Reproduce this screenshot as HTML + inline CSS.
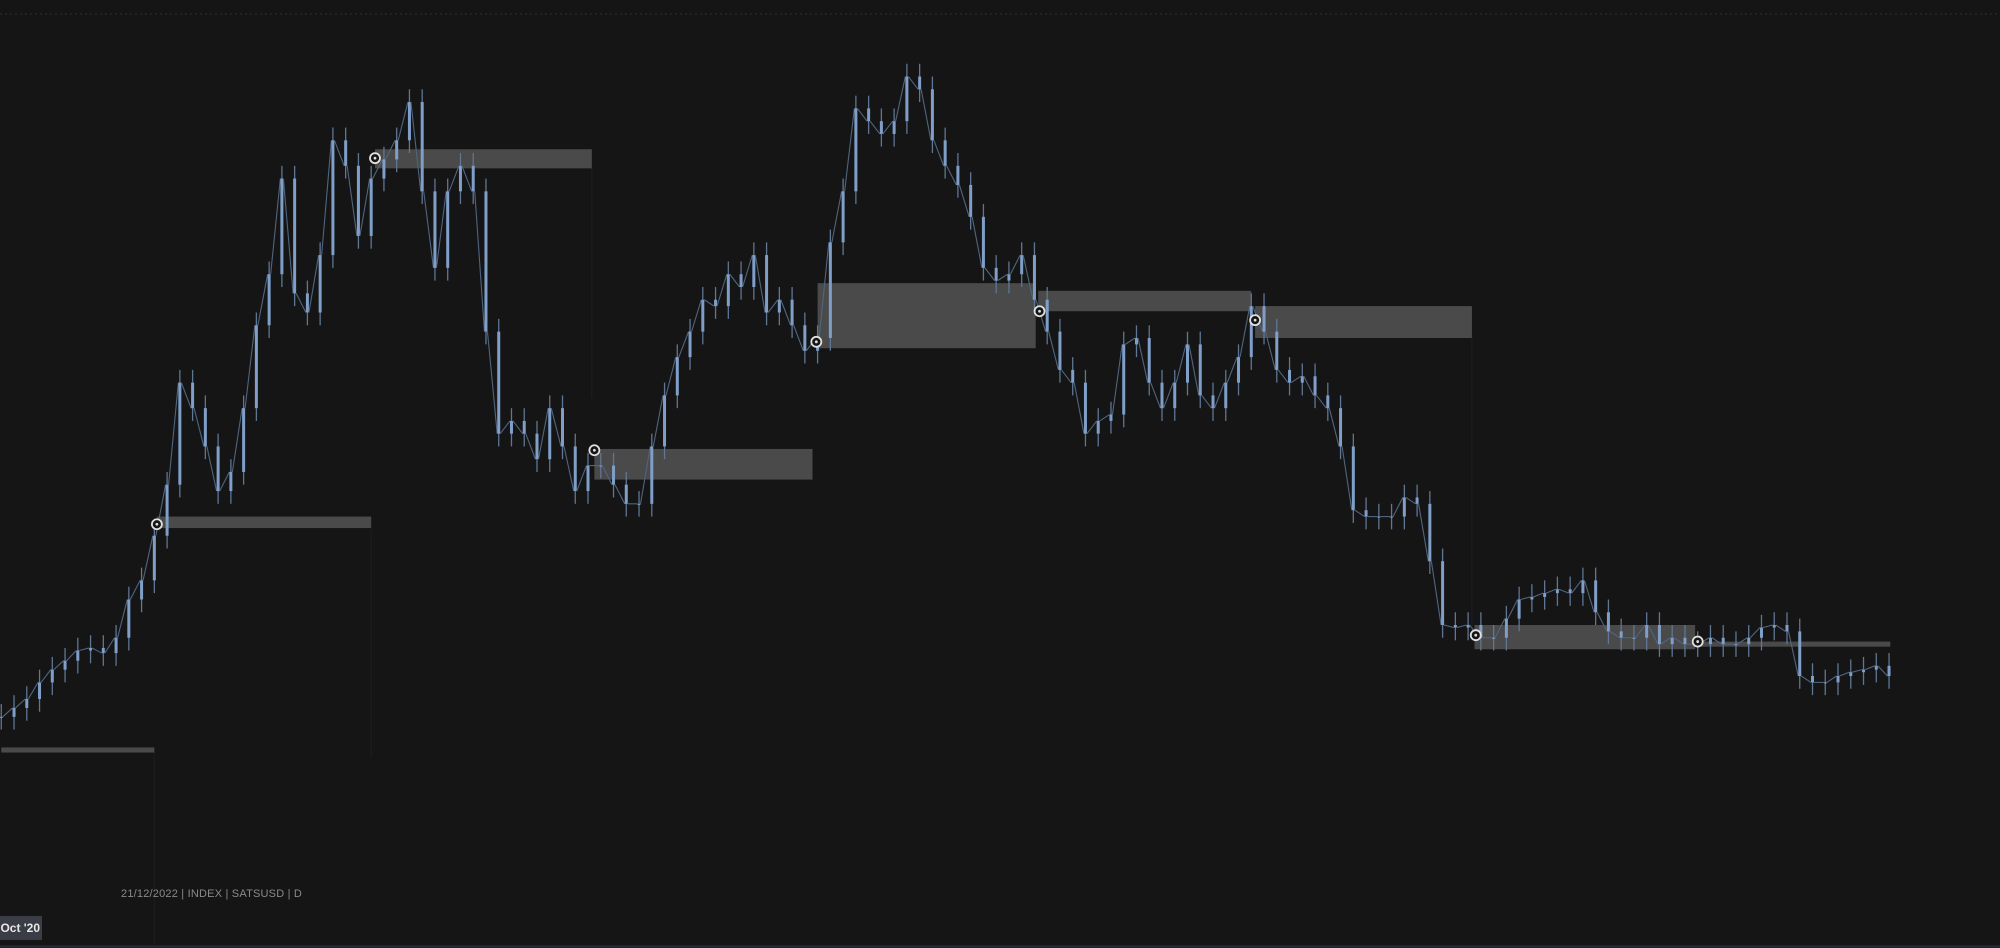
<!DOCTYPE html>
<html><head><meta charset="utf-8">
<style>
html,body{margin:0;padding:0;background:#151515;width:2000px;height:948px;overflow:hidden;font-family:"Liberation Sans",sans-serif}
svg{position:absolute;left:0;top:0}
#info{position:absolute;left:121px;top:888px;color:#8a8a8a;font-size:11px;letter-spacing:0.2px;white-space:nowrap}
#date{position:absolute;left:0;top:916px;width:42px;height:24px;background:#3a3d46;color:#e8e8e8;font-size:12px;font-weight:bold;line-height:24px;text-align:right;padding-right:2px;box-sizing:border-box;white-space:nowrap;overflow:hidden}
</style></head><body>
<svg id="chart" width="2000" height="948"></svg>
<div id="info">21/12/2022 | INDEX | SATSUSD | D</div>
<div id="date">Oct '20</div>
<script>
// closes, one per bar (price units, higher = up)
const closesDisp = [562,555,548,535,525,518,510,508,512,500,470,455,420,380,300,320,350,385,370,320,255,215,140,230,245,200,110,130,185,140,125,110,80,150,210,150,130,150,260,340,330,340,360,320,350,385,365,365,380,395,395,350,310,280,260,235,240,215,225,200,245,235,255,275,265,190,150,85,95,105,95,60,70,110,130,145,170,210,220,215,200,235,260,290,300,340,330,325,270,265,300,320,300,270,310,320,300,280,240,260,290,300,295,310,320,350,400,405,405,405,390,395,440,490,492,490,500,500,485,470,468,465,462,465,455,480,495,500,500,490,505,500,505,505,500,505,505,500,492,490,495,530,535,535,530,527,525,522,530];
const closes = closesDisp.map(v => 743 - v);
// zones: bar index start/end, top/bottom price
const zoneStart = [0, 12.2, 29.3, 46.5, 64.0, 81.3, 98.3, 115.5, 133.0];
const zoneEnd   = [12.0, 29.0, 46.3, 63.6, 81.1, 98.0, 115.3, 132.8, 148.1];
const zoneTop   = [743-586, 743-405, 743-117, 743-352, 743-222, 743-228, 743-240, 743-490, 743-503];
const zoneBot   = [743-590, 743-414, 743-132, 743-376, 743-273, 743-244, 743-265, 743-509, 743-507];
const markerBar   = [12.2, 29.3, 46.5, 63.9, 81.4, 98.3, 115.6, 133.0];
const markerPrice = [743-411, 743-124, 743-353, 743-268, 743-244, 743-251, 743-498, 743-503];

const S = 2000/1568;
const xScale = i => (i*10 + 1) * S;
const yScale = p => (743 - p) * S;
const NS = 'http://www.w3.org/2000/svg';
const svg = document.getElementById('chart');
function mk(tag, attrs){const e=document.createElementNS(NS,tag);for(const k in attrs)e.setAttribute(k,attrs[k]);svg.appendChild(e);return e;}

const topLine = mk('line',{x1:0,y1:14,x2:2000,y2:14,stroke:'#2e2e2e','stroke-dasharray':'2,3'});



zoneStart.forEach((s,i)=>{
  const x1=xScale(s), x2=xScale(zoneEnd[i]);
  const r=mk('rect',{x:x1,y:yScale(zoneTop[i]),width:x2-x1,height:Math.max(3,yScale(zoneBot[i])-yScale(zoneTop[i])),fill:'#4a4a4a'});
  
  
  const l=mk('line',{x1:x2,y1:yScale(zoneBot[i]),x2:x2,y2:yScale(zoneBot[i])+(i<3?230:i===6?300:0),stroke:'#1f1f1f','stroke-width':1});
  
  
});

closes.forEach((c,i)=>{
  const o = i>0?closes[i-1]:c;
  const hi=Math.max(o,c)+10, lo=Math.min(o,c)-10;
  const x=xScale(i);
  if(i>0){
    const x0=xScale(i-1)+1.5;
    const seg=mk('line',{x1:x0,y1:yScale(o),x2:x-1.5,y2:yScale(c),stroke:'#50657f','stroke-width':1.1});
    
    
  }
  const w=mk('line',{x1:x,y1:yScale(hi),x2:x,y2:yScale(lo),stroke:'#5f7694','stroke-width':1.3});
  
  
  const b=mk('rect',{x:x-1.5,y:yScale(Math.max(o,c)),width:3,height:Math.max(1,Math.abs(yScale(o)-yScale(c))),fill:'#809fc8'});
  
  
});

markerBar.forEach((b,i)=>{
  const m=mk('circle',{cx:xScale(b),cy:yScale(markerPrice[i]),r:5,fill:'#151515',stroke:'#e0e0e0','stroke-width':1.8});
  
  
  const d=mk('circle',{cx:xScale(b),cy:yScale(markerPrice[i]),r:1.4,fill:'#e0e0e0'});
  
  
});
const bl=mk('line',{x1:0,y1:946.5,x2:2000,y2:946.5,stroke:'#2a2d38','stroke-width':2});


</script>
</body></html>
